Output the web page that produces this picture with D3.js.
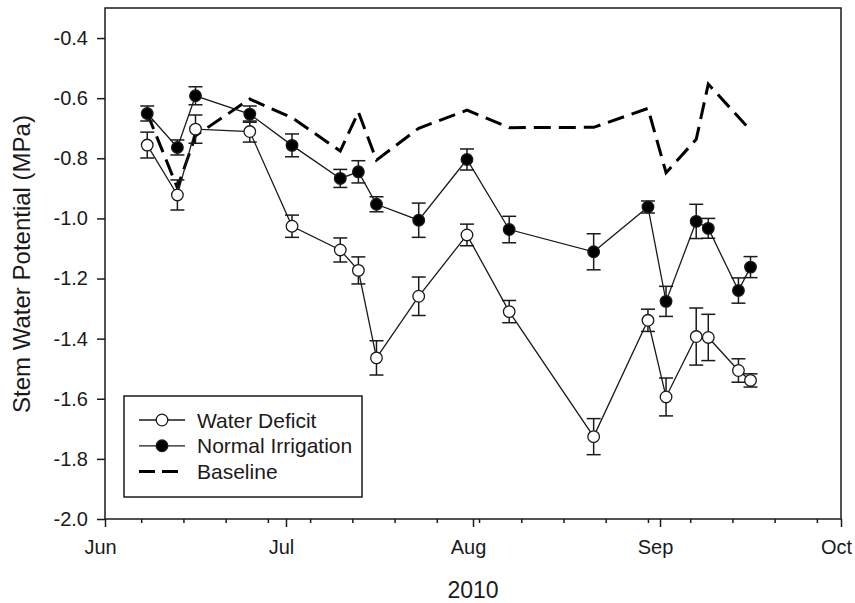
<!DOCTYPE html>
<html>
<head>
<meta charset="utf-8">
<script src="https://cdn.jsdelivr.net/npm/d3@7"></script>
<style>
  body { margin: 0; background: #fff; }
  text { font-family: "Liberation Sans", Arial, sans-serif; fill: #1a1a1a; }
</style>
</head>
<body>
<svg id="chart" width="855" height="603"></svg>
<script>
// measurement dates
const dates = ["2010-06-08", "2010-06-13", "2010-06-16", "2010-06-25", "2010-07-02", "2010-07-10",
  "2010-07-13", "2010-07-16", "2010-07-23", "2010-07-31", "2010-08-07", "2010-08-21",
  "2010-08-30", "2010-09-02", "2010-09-07", "2010-09-09", "2010-09-14", "2010-09-16"];

const deficit = [-0.756, -0.922, -0.703, -0.711, -1.026, -1.105, -1.173, -1.464, -1.259, -1.055,
  -1.310, -1.726, -1.339, -1.594, -1.393, -1.396, -1.506, -1.539];
const deficitErr = [0.043, 0.050, 0.047, 0.035, 0.037, 0.040, 0.045, 0.057, 0.064, 0.036,
  0.037, 0.060, 0.037, 0.063, 0.095, 0.077, 0.039, 0.022];

const irrigation = [-0.651, -0.764, -0.592, -0.653, -0.757, -0.867, -0.845, -0.953, -1.006, -0.804,
  -1.037, -1.111, -0.962, -1.276, -1.010, -1.033, -1.240, -1.162];
const irrigationErr = [0.025, 0.025, 0.030, 0.027, 0.038, 0.030, 0.037, 0.025, 0.057, 0.035,
  0.044, 0.060, 0.020, 0.050, 0.057, 0.033, 0.042, 0.035];

const baselineDates = ["2010-06-08", "2010-06-13", "2010-06-16", "2010-06-25", "2010-07-02", "2010-07-10",
  "2010-07-13", "2010-07-16", "2010-07-23", "2010-07-31", "2010-08-07", "2010-08-21",
  "2010-08-30", "2010-09-02", "2010-09-07", "2010-09-09", "2010-09-16"];
const baseline = [-0.650, -0.898, -0.725, -0.603, -0.665, -0.776, -0.646, -0.806, -0.700, -0.640,
  -0.698, -0.697, -0.634, -0.848, -0.737, -0.553, -0.707];

const yTicks = [-2.0, -1.8, -1.6, -1.4, -1.2, -1.0, -0.8, -0.6, -0.4];
const monthTicks = ["2010-06-01", "2010-07-01", "2010-08-01", "2010-09-01", "2010-10-01"];

const parse = d3.timeParse("%Y-%m-%d");
const plotLeft = 105, plotRight = 841, plotTop = 8, plotBottom = 519;
const ink = "#1a1a1a";

const svg = d3.select("#chart");

const x = d3.scaleTime()
  .domain([parse("2010-06-01"), parse("2010-10-01")])
  .range([plotLeft, plotRight]);

const y = d3.scaleLinear()
  .domain([-2.0, -0.3])
  .range([plotBottom, plotTop]);

const wd = dates.map((d, i) => ({ date: parse(d), v: deficit[i], e: deficitErr[i] }));
const ni = dates.map((d, i) => ({ date: parse(d), v: irrigation[i], e: irrigationErr[i] }));
const bl = baselineDates.map((d, i) => ({ date: parse(d), v: baseline[i] }));

// axes
const yAxis = svg.append("g")
  .attr("transform", `translate(${plotLeft},0)`)
  .call(d3.axisLeft(y).tickValues(yTicks).tickSize(8).tickPadding(9)
    .tickFormat(d => d.toFixed(1)));
yAxis.select(".domain").remove();
yAxis.selectAll("line").attr("stroke", ink).attr("stroke-width", 1.5);
yAxis.selectAll("text").style("font-size", "20px");

// weekly minor ticks
const minor = svg.append("g")
  .attr("transform", `translate(0,${plotBottom})`)
  .call(d3.axisBottom(x).ticks(d3.timeMonday.every(1)).tickSize(4).tickFormat(""));
minor.select(".domain").remove();
minor.selectAll("line").attr("stroke", ink).attr("stroke-width", 1.5);

const xAxis = svg.append("g")
  .attr("transform", `translate(0,${plotBottom})`)
  .call(d3.axisBottom(x).tickValues(monthTicks.map(parse)).tickSize(8).tickPadding(13)
    .tickFormat(d3.timeFormat("%b")));
xAxis.select(".domain").remove();
xAxis.selectAll("line").attr("stroke", ink).attr("stroke-width", 1.5);
xAxis.selectAll("text").style("font-size", "20px").attr("dx", -5);

// frame
svg.append("rect")
  .attr("x", plotLeft).attr("y", plotTop)
  .attr("width", plotRight - plotLeft).attr("height", plotBottom - plotTop)
  .attr("fill", "none").attr("stroke", ink).attr("stroke-width", 1.5);

const line = d3.line().x(d => x(d.date)).y(d => y(d.v));

svg.append("path").datum(bl)
  .attr("d", line)
  .attr("fill", "none").attr("stroke", "#000")
  .attr("stroke-width", 3).attr("stroke-dasharray", "17,8");

function series(data) {
  svg.append("path").datum(data)
    .attr("d", line)
    .attr("fill", "none").attr("stroke", ink).attr("stroke-width", 1.3);

  const bars = svg.append("g").attr("stroke", ink).attr("stroke-width", 1.5);
  bars.selectAll(".stem").data(data).join("line").attr("class", "stem")
    .attr("x1", d => x(d.date)).attr("x2", d => x(d.date))
    .attr("y1", d => y(d.v - d.e)).attr("y2", d => y(d.v + d.e));
  bars.selectAll(".capTop").data(data).join("line").attr("class", "capTop")
    .attr("x1", d => x(d.date) - 7).attr("x2", d => x(d.date) + 7)
    .attr("y1", d => y(d.v + d.e)).attr("y2", d => y(d.v + d.e));
  bars.selectAll(".capBot").data(data).join("line").attr("class", "capBot")
    .attr("x1", d => x(d.date) - 7).attr("x2", d => x(d.date) + 7)
    .attr("y1", d => y(d.v - d.e)).attr("y2", d => y(d.v - d.e));
}

series(wd);
series(ni);

// markers on top
[[wd, "#fff"], [ni, "#000"]].forEach(([data, fill]) => {
  svg.append("g").selectAll("circle").data(data).join("circle")
    .attr("cx", d => x(d.date)).attr("cy", d => y(d.v))
    .attr("r", 5.8)
    .attr("fill", fill).attr("stroke", ink).attr("stroke-width", 1.3);
});

// legend
const legend = svg.append("g");
legend.append("rect")
  .attr("x", 124).attr("y", 396).attr("width", 238).attr("height", 101)
  .attr("fill", "#fff").attr("stroke", ink).attr("stroke-width", 1.5);

const items = [
  { label: "Water Deficit", fill: "#fff", dash: null },
  { label: "Normal Irrigation", fill: "#000", dash: null },
  { label: "Baseline", fill: null, dash: "16,7" }
];
items.forEach((it, i) => {
  const ly = 420 + i * 25.8;
  legend.append("line")
    .attr("x1", 139).attr("x2", 185).attr("y1", ly).attr("y2", ly)
    .attr("stroke", it.dash ? "#000" : ink)
    .attr("stroke-width", it.dash ? 3 : 1.3)
    .attr("stroke-dasharray", it.dash);
  if (it.fill) {
    legend.append("circle")
      .attr("cx", 162).attr("cy", ly).attr("r", 5.8)
      .attr("fill", it.fill).attr("stroke", ink).attr("stroke-width", 1.3);
  }
  legend.append("text")
    .attr("x", 197).attr("y", ly).attr("dy", "0.36em")
    .style("font-size", "21px")
    .text(it.label);
});

// axis titles
svg.append("text")
  .attr("transform", "translate(21,264) rotate(-90)")
  .attr("text-anchor", "middle").attr("dy", "0.36em")
  .style("font-size", "24px")
  .text("Stem Water Potential (MPa)");

svg.append("text")
  .attr("x", 473).attr("y", 590).attr("dy", "0.36em")
  .attr("text-anchor", "middle")
  .style("font-size", "23px")
  .text("2010");
</script>
</body>
</html>
